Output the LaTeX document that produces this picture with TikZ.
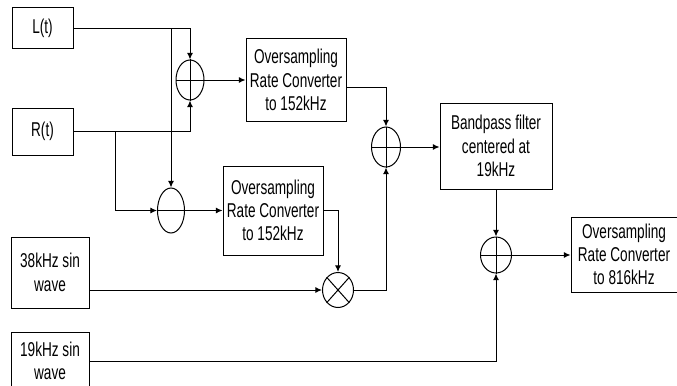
\documentclass[tikz,border=0pt]{standalone}
\usepackage{fontspec}
\setmainfont{Liberation Sans}[FakeStretch=0.68]
\usetikzlibrary{shapes.geometric,arrows.meta}
\begin{document}
\begin{tikzpicture}[x=0.75pt,y=-0.75pt,
  box/.style={draw,line width=0.75pt,rectangle,inner sep=0pt,align=center,
    font=\fontsize{15}{17.5}\selectfont},
  op/.style={draw,ellipse,inner sep=0pt,line width=0.75pt},
  arr/.style={-{Latex[length=5pt,width=4.5pt]},line width=0.75pt},
  ln/.style={line width=0.75pt}]
\useasboundingbox (0,0) rectangle (677,385);

% boxes
\node[box,minimum width=45.75pt,minimum height=30.75pt] (L) at (42.5,28.5) {L(t)};
\node[box,minimum width=45.75pt,minimum height=35.25pt] (R) at (42.5,131.5) {R(t)};
\node[box,minimum width=75pt,minimum height=61.5pt] (OS1) at (296,80) {Oversampling\\Rate Converter\\to 152kHz};
\node[box,minimum width=75pt,minimum height=66.75pt] (OS2) at (273,210.5) {Oversampling\\Rate Converter\\to 152kHz};
\node[box,minimum width=84pt,minimum height=64.5pt] (BP) at (496,146) {Bandpass filter\\centered at\\19kHz};
\node[box,minimum width=79.5pt,minimum height=56.25pt] (OS3) at (624,254.5) {Oversampling\\Rate Converter\\to 816kHz};
\node[box,minimum width=58.5pt,minimum height=53.25pt] (S38) at (50,272.5) {38kHz sin\\wave};
\node[box,minimum width=58.5pt,minimum height=43.5pt] (S19) at (50,361) {19kHz sin\\wave};

% operators
\node[op,minimum width=21pt,minimum height=30pt] (sum1) at (190,80) {};
\node[op,minimum width=20.25pt,minimum height=33.75pt] (minus) at (171,210.5) {};
\node[op,minimum width=21.75pt,minimum height=30pt] (sum3) at (386,147) {};
\node[op,minimum width=23.25pt,minimum height=27pt] (sum4) at (496,255) {};
\node[op,minimum width=23.25pt,minimum height=26.25pt] (mult) at (338,290) {};

\draw[ln] (sum1.north) -- (sum1.south) (sum1.west) -- (sum1.east);
\draw[ln] (minus.west) -- (minus.east);
\draw[ln] (sum3.north) -- (sum3.south) (sum3.west) -- (sum3.east);
\draw[ln] (sum4.north) -- (sum4.south) (sum4.west) -- (sum4.east);
\draw[ln] (mult.north east) -- (mult.south west) (mult.north west) -- (mult.south east);

% connectors
\draw[arr] (L.east) -| (sum1.north);
\draw[arr] (minus.north |- L.east) -- (minus.north);
\draw[arr] (R.east) -| (sum1.south);
\coordinate (rb) at (115,131.5);
\draw[arr] (rb) |- (minus.west);
\draw[arr] (sum1.east) -- (OS1.west);
\draw[arr] (minus.east) -- (minus.east -| OS2.west);
\draw[arr] ([yshift=-5.25pt]OS1.east) -| (sum3.north);
\draw[arr] (OS2.east) -| (mult.north);
\draw[arr] (mult -| S38.east) -- (mult.west);
\draw[arr] (mult.east) -| (sum3.south);
\draw[arr] (sum3.east) -- (sum3.east -| BP.west);
\draw[arr] (BP.south) -- (sum4.north);
\draw[arr] (sum4.east) -- (sum4.east -| OS3.west);
\draw[arr] (S19.east) -| (sum4.south);
\end{tikzpicture}
\end{document}
